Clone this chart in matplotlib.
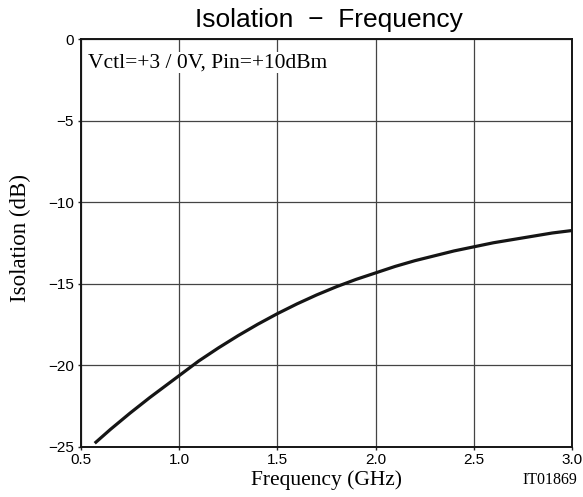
import matplotlib.pyplot as plt
import numpy as np

# values
freq_ghz = [0.57, 0.65, 0.75, 0.85, 0.95, 1.0, 1.1, 1.2, 1.3, 1.4, 1.5, 1.6, 1.7, 1.8, 1.9,
            2.0, 2.1, 2.2, 2.3, 2.4, 2.5, 2.6, 2.7, 2.8, 2.9, 3.0]
isolation_db = [-24.8, -23.95, -22.95, -22.0, -21.1, -20.65, -19.75, -18.95, -18.2, -17.5, -16.85,
                -16.25, -15.7, -15.2, -14.75, -14.35, -13.95, -13.6, -13.3, -13.0, -12.75, -12.5,
                -12.3, -12.1, -11.9, -11.75]
x_ticks = [0.5, 1.0, 1.5, 2.0, 2.5, 3.0]
y_ticks = [0, -5, -10, -15, -20, -25]

SERIF = ['Liberation Serif', 'DejaVu Serif']
SANS = ['Liberation Sans', 'DejaVu Sans']

fig = plt.figure(figsize=(5.83, 4.97), dpi=100)
ax = fig.add_axes([0.1389, 0.1016, 0.8422, 0.8199])

ax.plot(freq_ghz, isolation_db, color='#151515', linewidth=2.3, solid_capstyle='butt')

ax.set_xlim(0.5, 3.0)
ax.set_ylim(-25, 0)
ax.set_xticks(x_ticks)
ax.set_yticks(y_ticks)
ax.set_xticklabels(['%.1f' % v for v in x_ticks], family=SANS, fontsize=11)
ax.set_yticklabels(['0' if v == 0 else '\u2212%d' % -v for v in y_ticks], family=SANS, fontsize=11)
ax.tick_params(length=2, width=1, pad=3, color='#222222')
ax.grid(True, color='#444444', linewidth=0.9)
for s in ax.spines.values():
    s.set_linewidth(1.4)
    s.set_color('#151515')

fig.text(0.560, 0.034, 'Frequency (GHz)', ha='center', va='center', family=SERIF, fontsize=15.5)
fig.text(0.035, 0.522, 'Isolation (dB)', ha='center', va='center', rotation=90,
         family=SERIF, fontsize=16.5)
fig.text(0.565, 0.9457, 'Isolation  \u2212  Frequency', ha='center', va='baseline',
         family=SANS, fontsize=19)
ax.text(0.014, 0.931, 'Vctl=+3 / 0V, Pin=+10dBm', transform=ax.transAxes, ha='left', va='baseline',
        family=SERIF, fontsize=15.5, bbox=dict(facecolor='white', edgecolor='none', pad=1))
fig.text(0.943, 0.034, 'IT01869', ha='center', va='center', family=SERIF, fontsize=11.5)

fig.savefig('out.png', dpi=100)
